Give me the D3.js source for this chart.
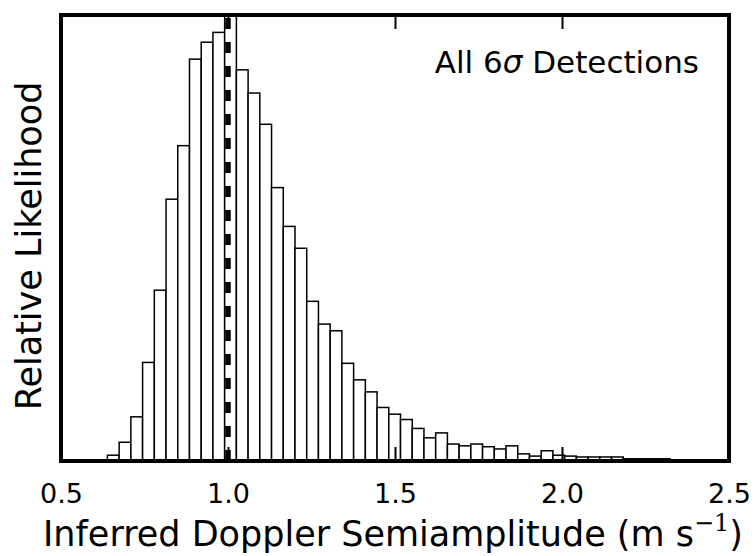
<!DOCTYPE html>
<html>
<head>
<meta charset="utf-8">
<script src="https://cdn.jsdelivr.net/npm/d3@7"></script>
<style>
  body { margin: 0; background: #fff; }
  text { font-family: "DejaVu Sans", sans-serif; fill: #000; }
</style>
</head>
<body>
<svg id="chart" width="756" height="556"></svg>
<script>
// Posterior of the Doppler semiamplitude K for all 6-sigma detections,
// as a histogram of relative likelihood per bin.
const binStart = 0.639;   // left edge of the first bin (m/s)
const binWidth = 0.0351;  // bin width (m/s)
const likelihood = [
  0.013, 0.042, 0.099, 0.221, 0.383, 0.587, 0.707, 0.901, 0.939, 0.961,
  1.000, 0.877, 0.825, 0.755, 0.613, 0.526, 0.477, 0.358, 0.307, 0.292,
  0.219, 0.182, 0.155, 0.120, 0.105, 0.093, 0.073, 0.052, 0.063, 0.038,
  0.034, 0.038, 0.032, 0.027, 0.034, 0.016, 0.011, 0.023, 0.013, 0.011,
  0.009, 0.009, 0.009, 0.009, 0.005, 0.005, 0.005, 0.005
];
const xDomain = [0.5, 2.5];
const xTicks = [0.5, 1.0, 1.5, 2.0, 2.5];
const referenceK = 1.0;   // dashed vertical marker

const bins = likelihood.map((v, i) => ({
  x0: binStart + i * binWidth,
  x1: binStart + (i + 1) * binWidth,
  value: v
}));

const svg = d3.select("#chart");
const plot = { left: 61, right: 729, top: 15, bottom: 461 };

const x = d3.scaleLinear().domain(xDomain).range([plot.left, plot.right]);
const y = d3.scaleLinear().domain([0, d3.max(likelihood)]).range([plot.bottom, plot.top]);

svg.append("clipPath").attr("id", "plotClip")
  .append("rect")
  .attr("x", plot.left).attr("y", plot.top)
  .attr("width", plot.right - plot.left).attr("height", plot.bottom - plot.top);

// histogram bars
svg.append("g")
  .attr("clip-path", "url(#plotClip)")
  .selectAll("rect")
  .data(bins)
  .join("rect")
  .attr("x", d => x(d.x0))
  .attr("y", d => y(d.value))
  .attr("width", d => x(d.x1) - x(d.x0))
  .attr("height", d => y(0) - y(d.value) + 2)
  .attr("fill", "#fff")
  .attr("stroke", "#000")
  .attr("stroke-width", 1.5);

// dashed marker at K = 1 m/s, dashes start from the bottom
svg.append("line")
  .attr("x1", x(referenceK)).attr("x2", x(referenceK))
  .attr("y1", y(0)).attr("y2", plot.top)
  .attr("stroke", "#000")
  .attr("stroke-width", 5.5)
  .attr("stroke-dasharray", "11,13");

// bottom axis: inward ticks with labels
const xAxis = d3.axisBottom(x)
  .tickValues(xTicks)
  .tickSizeInner(-14)
  .tickSizeOuter(0)
  .tickFormat(d3.format(".1f"));

const gx = svg.append("g")
  .attr("transform", `translate(0,${plot.bottom})`)
  .call(xAxis);
gx.select(".domain").remove();
gx.selectAll(".tick line").attr("stroke", "#000").attr("stroke-width", 2);
gx.selectAll(".tick text")
  .attr("y", 42).attr("dy", 0)
  .style("font-family", "DejaVu Sans")
  .style("font-size", "27px")
  .attr("fill", "#000");

// top axis: inward ticks only
const xAxisTop = d3.axisTop(x)
  .tickValues(xTicks)
  .tickSizeInner(-14)
  .tickSizeOuter(0)
  .tickFormat("");
const gt = svg.append("g")
  .attr("transform", `translate(0,${plot.top})`)
  .call(xAxisTop);
gt.select(".domain").remove();
gt.selectAll(".tick line").attr("stroke", "#000").attr("stroke-width", 2);

// frame
svg.append("rect")
  .attr("x", plot.left).attr("y", plot.top)
  .attr("width", plot.right - plot.left).attr("height", plot.bottom - plot.top)
  .attr("fill", "none")
  .attr("stroke", "#000")
  .attr("stroke-width", 4);

// panel annotation
const note = svg.append("text")
  .attr("x", 699).attr("y", 73)
  .attr("text-anchor", "end")
  .style("font-size", "31px");
note.append("tspan").text("All 6");
note.append("tspan").attr("font-style", "italic").text("σ");
note.append("tspan").text(" Detections");

// axis titles
const xl = svg.append("text")
  .attr("x", 393)
  .attr("y", 546)
  .attr("text-anchor", "middle")
  .style("font-size", "35px");
xl.append("tspan").text("Inferred Doppler Semiamplitude (m s");
xl.append("tspan").attr("dy", -15).style("font-size", "24px").text("−");
xl.append("tspan").style("font-size", "24px").style("font-family", "DejaVu Serif").text("1");
xl.append("tspan").attr("dy", 15).text(")");

svg.append("text")
  .attr("transform", `translate(41,${(plot.top + plot.bottom) / 2 + 8}) rotate(-90)`)
  .attr("text-anchor", "middle")
  .style("font-size", "35px")
  .text("Relative Likelihood");
</script>
</body>
</html>
